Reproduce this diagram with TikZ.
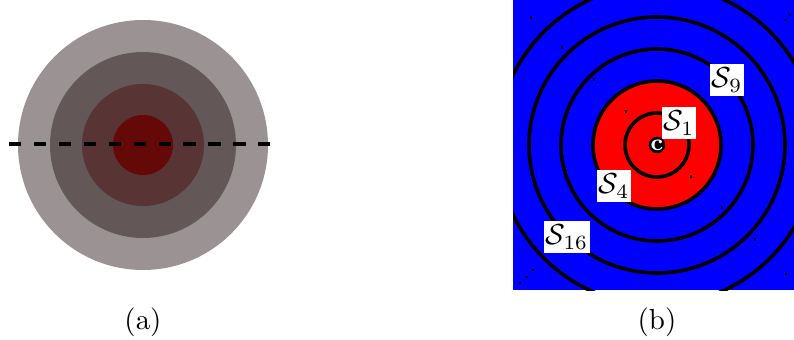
\documentclass[tikz,border=0pt]{standalone}
\usepackage{amsmath}
\usetikzlibrary{positioning}
\definecolor{ringA}{RGB}{155,147,147}
\definecolor{ringB}{RGB}{100,87,87}
\definecolor{ringC}{RGB}{88,52,52}
\definecolor{ringD}{RGB}{100,8,8}
\tikzset{
  ring/.style={draw=black, line width=1.25pt},
  slbl/.style={fill=white, inner xsep=0.5pt, inner ysep=1.4pt},
  cdot/.style={circle, fill=black, inner sep=0pt, minimum size=5.5pt,
               text=white, font=\footnotesize\bfseries},
  tick/.style={line width=0.35pt},
}
\begin{document}
\begin{tikzpicture}[x=0.345pt,y=0.345pt]
  \useasboundingbox (0,0) rectangle (794,339);
  % (a) shaded discs
  \fill[ringA] (143,194) circle (125);
  \fill[ringB] (143,194) circle (93);
  \fill[ringC] (143,194) circle (61);
  \fill[ringD] (143,194) circle (30);
  \draw[line width=1.7pt, dash pattern=on 4.2pt off 4.4pt] (9,195) -- (277,195);
  \node (capa) at (143,17) {(a)};
  % (b) level sets
  \fill[blue] (513,49) rectangle (794,339);
  \begin{scope}
    \clip (513,49) rectangle (794,339);
    \fill[red] (657,194) circle (64);
    \foreach \r in {32,64,96,128,160}
      \draw[ring] (657,194) circle (\r);
  \end{scope}
  \foreach \p in {(531,320),(562,290),(594,258),(626,226),(691,161),(722,130),(755,98),(786,64)}
    \draw[tick] \p -- ++(0,3);
  \foreach \p in {(520,56),(527,62),(533,69),(785,319),(790,324)}
    \fill \p circle (1.4);
  \node[cdot] (c) at (657,194) {c};
  \node[slbl] (s1) at (679,216) {$\mathcal{S}_1$};
  \node[slbl] (s4) at (614,153) {$\mathcal{S}_4$};
  \node[slbl] (s9) at (727,259) {$\mathcal{S}_9$};
  \node[slbl] (s16) at (567,102) {$\mathcal{S}_{16}$};
  \node (capb) at (657,17) {(b)};
\end{tikzpicture}
\end{document}
